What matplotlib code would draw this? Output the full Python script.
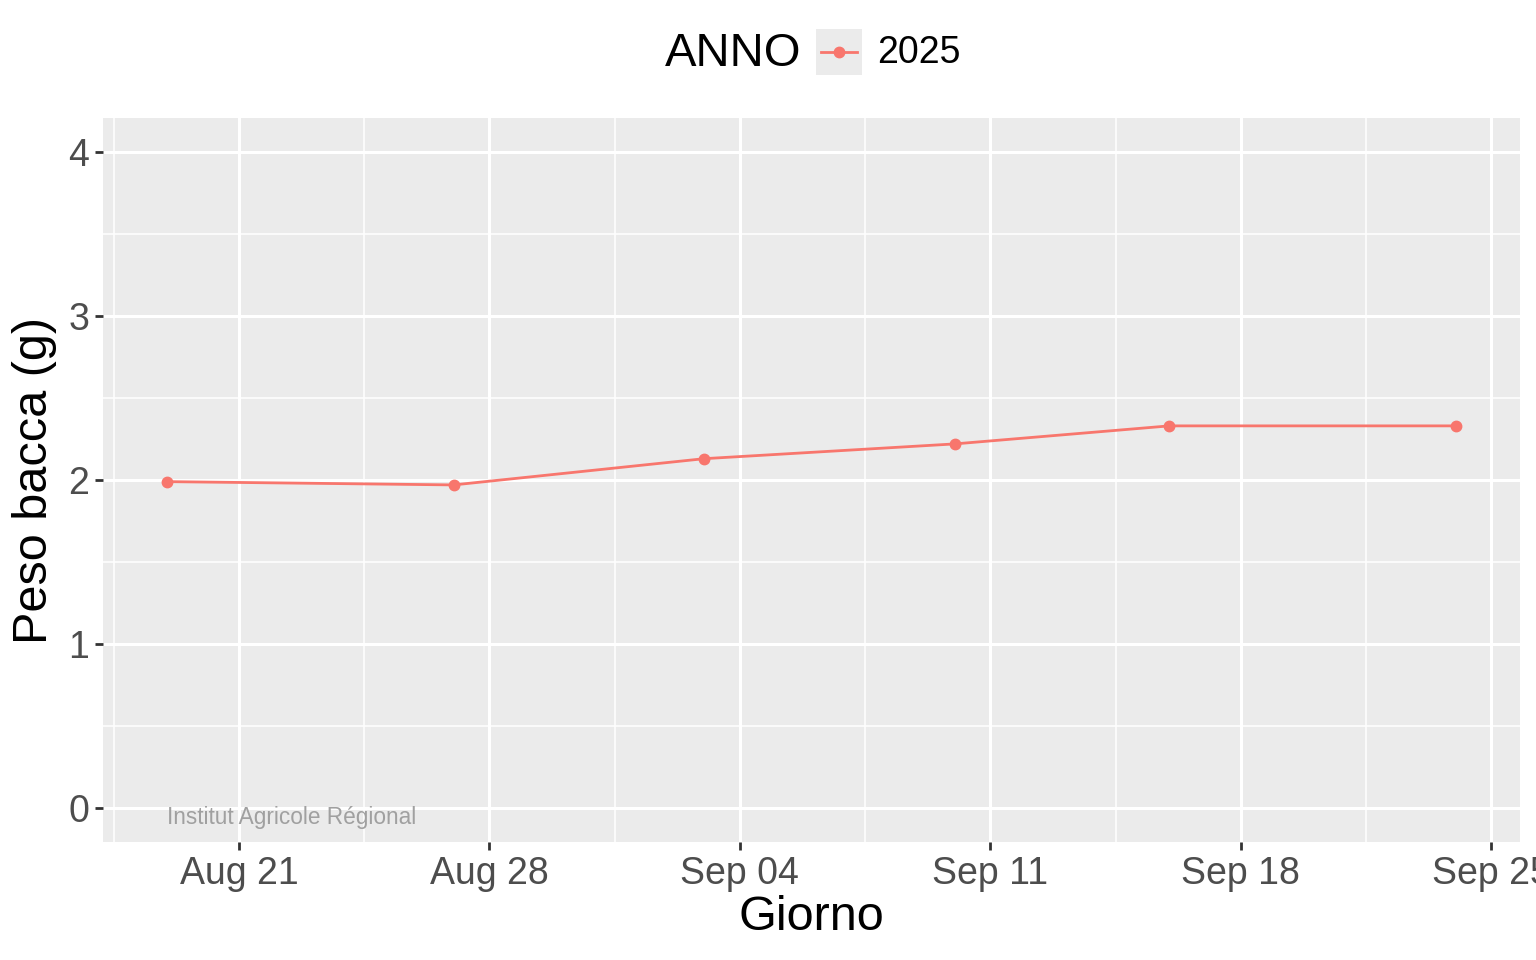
import numpy as np
import pandas as pd
import matplotlib
matplotlib.use("Agg")
from matplotlib import pyplot as plt
import matplotlib.dates as mdates

plt.rcParams['font.family'] = ['Liberation Sans', 'DejaVu Sans']

# data
giorni = ['2025-08-19', '2025-08-27', '2025-09-03', '2025-09-10', '2025-09-16', '2025-09-24']
peso = [1.99, 1.97, 2.13, 2.22, 2.33, 2.33]
anno = '2025'
ticks = ['2025-08-21', '2025-08-28', '2025-09-04', '2025-09-11', '2025-09-18', '2025-09-25']

dates = pd.to_datetime(giorni)
tick_dates = pd.to_datetime(ticks)
red = '#F8766D'
grey = '#EBEBEB'

W, H = 1536, 960
fig = plt.figure(figsize=(15.36, 9.6), dpi=100)
ax = fig.add_axes([103 / W, 1 - 842 / H, (1520 - 103) / W, (842 - 118) / H])
ax.set_facecolor(grey)

ax.plot(dates, peso, color=red, lw=2, marker='o', ms=7.5, zorder=3)

tick_num = mdates.date2num(tick_dates)
ax.set_xticks(tick_num)
ax.set_xticklabels([d.strftime('%b %d') for d in tick_dates])
ax.set_xticks(tick_num - 3.5, minor=True)
ax.set_yticks([0, 1, 2, 3, 4])
ax.set_yticks([0.5, 1.5, 2.5, 3.5], minor=True)

# ggplot-like 5% expansion
x0, x1 = mdates.date2num(dates[0]), mdates.date2num(dates[-1])
pad = (x1 - x0) * 0.05
ax.set_xlim(x0 - pad, x1 + pad)
ax.set_ylim(-0.207, 4.207)

ax.grid(which='major', color='white', lw=2.2)
ax.grid(which='minor', color='white', lw=1.1)
ax.set_axisbelow(True)
for s in ax.spines.values():
    s.set_visible(False)

ax.tick_params(which='major', length=6, width=2, color='#333333', labelsize=27,
               labelcolor='#4D4D4D', pad=4)
ax.tick_params(which='minor', length=0)

ax.set_xlabel('Giorno', fontsize=35, labelpad=2)
ax.set_ylabel('Peso bacca (g)', fontsize=35, labelpad=8)

ax.text(dates[0], -0.06, 'Institut Agricole Régional', fontsize=16.3,
        color='#A0A0A0', ha='left', va='center')

# legend on top
fig.text(665 / W, 1 - 54 / H, 'ANNO', fontsize=34, ha='left', va='center')
kax = fig.add_axes([816 / W, 1 - 75 / H, 46 / W, 46 / H])
kax.set_facecolor(grey)
kax.plot([0.1, 0.9], [0.5, 0.5], color=red, lw=2)
kax.plot([0.5], [0.5], color=red, marker='o', ms=7.5)
kax.set_xlim(0, 1)
kax.set_ylim(0, 1)
kax.set_xticks([])
kax.set_yticks([])
for s in kax.spines.values():
    s.set_visible(False)
fig.text(877 / W, 1 - 53 / H, anno, fontsize=27, ha='left', va='center')

fig.savefig('out.png', dpi=100)
